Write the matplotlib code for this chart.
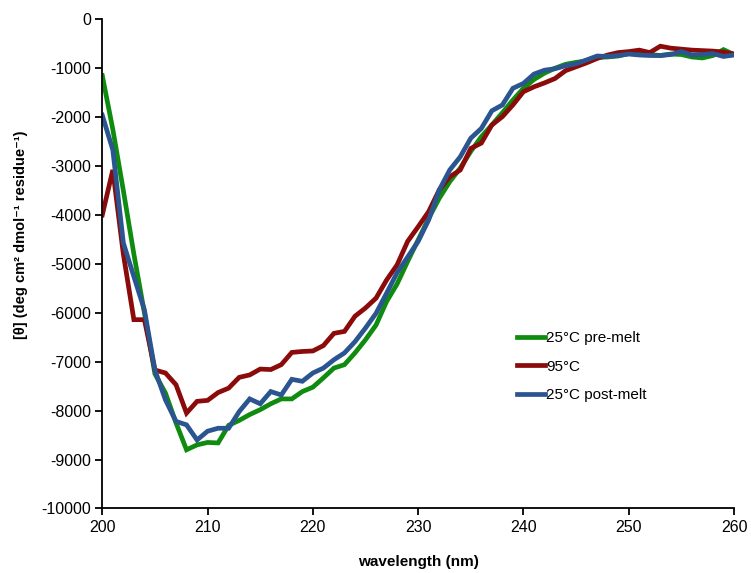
import matplotlib
matplotlib.use("Agg")
import matplotlib.pyplot as plt
import numpy as np

plt.rcParams['font.family'] = ['Liberation Sans', 'DejaVu Sans']
plt.rcParams['axes.unicode_minus'] = False

wavelength = list(range(200, 261))

pre_melt = [-1150, -2250, -3500, -4800, -6000, -7250, -7640, -8250, -8800, -8700,
            -8650, -8660, -8300, -8200, -8080, -7980, -7860, -7760, -7760, -7610,
            -7520, -7330, -7130, -7060, -6820, -6550, -6250, -5770, -5410, -4950,
            -4510, -4070, -3660, -3320, -3040, -2700, -2400, -2160, -1910, -1650,
            -1410, -1230, -1100, -1000, -920, -880, -850, -780, -770, -750,
            -700, -680, -720, -740, -710, -720, -770, -790, -740, -620, -720]

melt_95 = [-4000, -3080, -4800, -6140, -6140, -7170, -7230, -7470, -8050, -7810,
           -7790, -7630, -7540, -7320, -7270, -7150, -7160, -7060, -6810, -6790,
           -6780, -6670, -6420, -6380, -6070, -5900, -5700, -5330, -5020, -4540,
           -4240, -3930, -3490, -3220, -3080, -2640, -2530, -2160, -1990, -1750,
           -1480, -1380, -1300, -1210, -1050, -970, -890, -800, -730, -680,
           -660, -630, -680, -550, -590, -610, -630, -640, -650, -670, -710]

post_melt = [-1960, -2670, -4570, -5260, -5940, -7170, -7780, -8220, -8290, -8600,
             -8420, -8360, -8360, -8020, -7760, -7860, -7610, -7680, -7360, -7400,
             -7230, -7130, -6960, -6820, -6590, -6310, -6010, -5600, -5180, -4860,
             -4540, -4100, -3490, -3080, -2810, -2430, -2230, -1870, -1750, -1410,
             -1310, -1120, -1040, -1010, -950, -910, -830, -750, -760, -740,
             -710, -730, -740, -740, -720, -660, -730, -720, -700, -760, -730]

labels = ["25°C pre-melt", "95°C", "25°C post-melt"]
colors = ["#0f8c0f", "#8b0a0a", "#2b5590"]

fig = plt.figure(figsize=(7.51, 5.73), dpi=100)
ax = fig.add_axes([0.1362, 0.1126, 0.8412, 0.8537])

for ys, lab, col in zip([pre_melt, melt_95, post_melt], labels, colors):
    ax.plot(wavelength, ys, color=col, lw=3.4, label=lab, solid_joinstyle='miter')

ax.set_xlim(200, 260)
ax.set_ylim(-10000, 0)
ax.set_xticks(range(200, 261, 10))
ax.set_yticks(range(-10000, 1, 1000))
for s in ['top', 'right']:
    ax.spines[s].set_visible(False)
for s in ['left', 'bottom']:
    ax.spines[s].set_linewidth(1.3)
ax.tick_params(axis='both', direction='out', length=5, width=1.3, labelsize=11.5, pad=3)

ax.set_xlabel("wavelength (nm)", fontsize=11, fontweight='bold')
ax.xaxis.set_label_coords(0.5, -0.096)
ax.set_ylabel("[θ] (deg cm² dmol⁻¹ residue⁻¹)", fontsize=10.5, fontweight='bold')
ax.yaxis.set_label_coords(-0.118, 0.56)

ax.legend(loc='upper left', bbox_to_anchor=(0.647, 0.375), frameon=False,
          fontsize=11, handlelength=1.8, handletextpad=0.1, labelspacing=0.95,
          borderaxespad=0)

fig.savefig("out.png", dpi=100)
